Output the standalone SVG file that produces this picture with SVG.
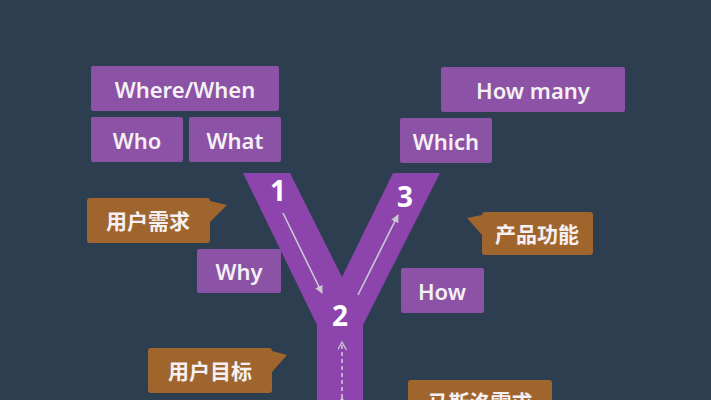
<svg xmlns="http://www.w3.org/2000/svg" width="711" height="400" viewBox="0 0 711 400">
<defs>
<style>
.bg{fill:#2d3e50}
.box{fill:#8b52a6}
.call{fill:#a0652d}
.t{font-family:"Noto Sans","Noto Sans CJK SC",sans-serif;font-size:22px;font-weight:600;fill:#f4f0f4;text-anchor:middle;dominant-baseline:central}
.c{font-size:21px}
.num{font-family:"Noto Sans","DejaVu Sans",sans-serif;font-size:28px;font-weight:700;fill:#ffffff;text-anchor:middle;dominant-baseline:central}
.arr{stroke:#c9c9d2;stroke-width:1.6;fill:none}
</style>
<marker id="ah" viewBox="0 0 10 10" refX="9" refY="5" markerWidth="8" markerHeight="8" orient="auto" markerUnits="userSpaceOnUse">
<path d="M0,0 L10,5 L0,10 z" fill="#c9c9d2"/>
</marker>
<marker id="ao" viewBox="0 0 10 10" refX="9" refY="5" markerWidth="9" markerHeight="9" orient="auto" markerUnits="userSpaceOnUse">
<path d="M0,0 L9,5 L0,10" fill="none" stroke="#c9c9d2" stroke-width="1.4"/>
</marker>
</defs>
<rect class="bg" x="0" y="0" width="711" height="400"/>

<g id="y-shape">
<path d="M243,173 L290,173 L342,277 L393,173 L440,173 L363,325 L363,400 L317,400 L317,325 Z" fill="#8e44ad"/>
</g>

<g id="connectors">
<line class="arr" x1="283" y1="213" x2="322" y2="293" marker-end="url(#ah)"/>
<line class="arr" x1="358" y1="295" x2="398" y2="215" marker-end="url(#ah)"/>
<line class="arr" x1="342" y1="398" x2="342" y2="342" stroke-dasharray="4,3" marker-end="url(#ao)" marker-start="url(#ao)"/>
</g>

<g id="n1"><text class="num" x="278" y="190">1</text></g>
<g id="n2"><text class="num" x="340" y="315">2</text></g>
<g id="n3"><text class="num" x="405" y="196">3</text></g>

<g id="where-when"><rect class="box" x="91" y="66" width="188" height="45" rx="2"/><text class="t" x="185" y="89">Where/When</text></g>
<g id="who"><rect class="box" x="91" y="117" width="92" height="45" rx="2"/><text class="t" x="137" y="139.5">Who</text></g>
<g id="what"><rect class="box" x="189" y="117" width="92" height="45" rx="2"/><text class="t" x="235" y="139.5">What</text></g>
<g id="how-many"><rect class="box" x="441" y="67" width="184" height="45" rx="2"/><text class="t" x="533" y="90">How many</text></g>
<g id="which"><rect class="box" x="400" y="118" width="92" height="45" rx="2"/><text class="t" x="446" y="140.5">Which</text></g>
<g id="why"><rect class="box" x="197" y="249" width="84" height="44" rx="2"/><text class="t" x="239" y="271">Why</text></g>
<g id="how"><rect class="box" x="401" y="268" width="83" height="45" rx="2"/><text class="t" x="442" y="290.5">How</text></g>

<g id="user-need"><path class="call" d="M90,198 L207,198 Q210,198 210,201 L227,205 L210,222 L210,240 Q210,243 207,243 L90,243 Q87,243 87,240 L87,201 Q87,198 90,198 Z"/><text class="t c" x="148" y="220.5">用户需求</text></g>
<g id="user-goal"><path class="call" d="M151,348 L269,348 Q272,348 272,351 L287,355 L272,372 L272,390 Q272,393 269,393 L151,393 Q148,393 148,390 L148,351 Q148,348 151,348 Z"/><text class="t c" x="210" y="370.5">用户目标</text></g>
<g id="product-feature"><path class="call" d="M485,212 L590,212 Q593,212 593,215 L593,252 Q593,255 590,255 L485,255 Q482,255 482,252 L482,235 L467,218 L482,215 Q482,212 485,212 Z"/><text class="t c" x="537" y="233.5">产品功能</text></g>
<g id="maslow"><path class="call" d="M411,380 L549,380 Q552,380 552,383 L552,425 L408,425 L408,383 Q408,380 411,380 Z"/><text class="t c" x="480" y="402">马斯洛需求</text></g>
</svg>
